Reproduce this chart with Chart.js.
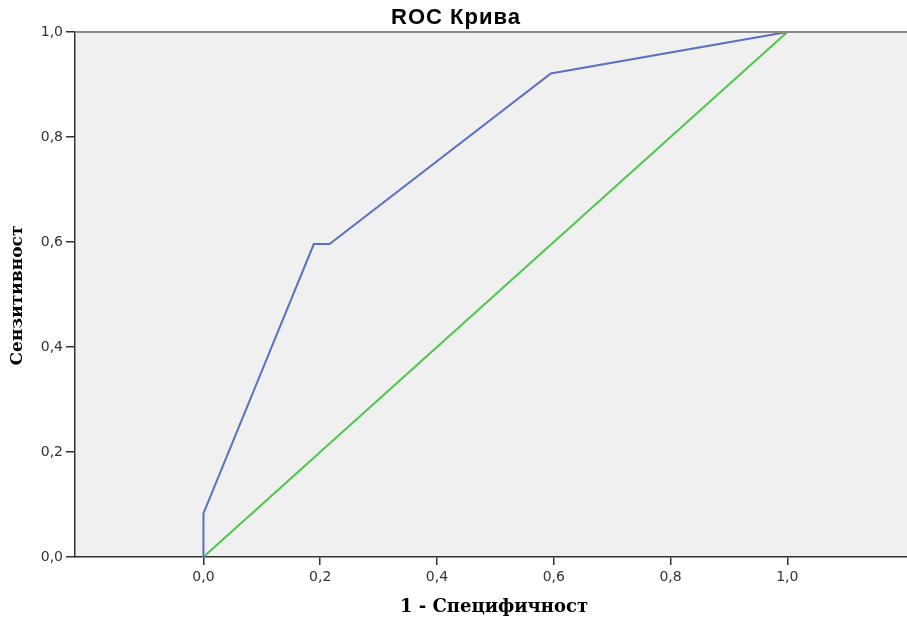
<!DOCTYPE html>
<html>
<head>
<meta charset="utf-8">
<script src="https://cdn.jsdelivr.net/npm/chart.js@4"></script>
<style>
  html, body { margin: 0; padding: 0; background: #ffffff; }
  #wrap { width: 907px; height: 624px; position: relative; }
</style>
</head>
<body>
<div id="wrap"><canvas id="roc" width="907" height="624"></canvas></div>
<script>
// ROC curve: 1 - specificity (x) against sensitivity (y)
const rocFpr = [0.0, 0.0, 0.189, 0.216, 0.595, 1.0];
const rocTpr = [0.0, 0.083, 0.596, 0.596, 0.921, 1.0];
// reference diagonal
const diagX = [0.0, 1.0];
const diagY = [0.0, 1.0];
const tickValues = [0.0, 0.2, 0.4, 0.6, 0.8, 1.0];

const chartTitle = 'ROC Крива';
const xTitle = '1 - Специфичност';
const yTitle = 'Сензитивност';

const toPoints = (xs, ys) => xs.map((x, i) => ({ x: x, y: ys[i] }));
const fmt = v => Number(v).toFixed(1).replace('.', ',');

const bgPlugin = {
  id: 'plotBackground',
  beforeDraw(chart) {
    const { ctx, chartArea: a } = chart;
    ctx.save();
    ctx.fillStyle = '#f0f0f0';
    ctx.fillRect(a.left, a.top, a.right - a.left, a.bottom - a.top);
    ctx.restore();
  },
  afterDraw(chart) {
    const { ctx, chartArea: a } = chart;
    ctx.save();
    // top frame line
    ctx.strokeStyle = '#8a8a8a';
    ctx.lineWidth = 2;
    ctx.beginPath();
    ctx.moveTo(a.left, a.top);
    ctx.lineTo(a.right, a.top);
    ctx.stroke();
    // titles
    ctx.fillStyle = '#000000';
    ctx.textAlign = 'center';
    ctx.textBaseline = 'middle';
    ctx.font = 'bold 22px "Liberation Sans", Arial, sans-serif';
    ctx.letterSpacing = '1px';
    ctx.fillText(chartTitle, 456, 18);
    ctx.letterSpacing = '0px';
    ctx.font = 'bold 18px "DejaVu Serif", serif';
    ctx.fillText(xTitle, (a.left + a.right) / 2 + 3, 607);
    ctx.font = 'bold 17px "DejaVu Serif", serif';
    ctx.translate(18, (a.top + a.bottom) / 2 + 1);
    ctx.rotate(-Math.PI / 2);
    ctx.fillText(yTitle, 0, 0);
    ctx.restore();
  }
};

new Chart(document.getElementById('roc'), {
  type: 'scatter',
  data: {
    datasets: [
      {
        data: toPoints(rocFpr, rocTpr),
        showLine: true,
        borderColor: '#5b6fc4',
        borderWidth: 2,
        pointRadius: 0,
        tension: 0
      },
      {
        data: toPoints(diagX, diagY),
        showLine: true,
        borderColor: '#4cc64c',
        borderWidth: 2,
        pointRadius: 0,
        tension: 0
      }
    ]
  },
  options: {
    responsive: false,
    animation: false,
    layout: { padding: { top: 32, right: 0, left: 0, bottom: 0 } },
    plugins: { legend: { display: false }, tooltip: { enabled: false }, title: { display: false } },
    scales: {
      x: {
        type: 'linear',
        min: -0.22,
        max: 1.205,
        afterBuildTicks(scale) { scale.ticks = tickValues.map(v => ({ value: v })); },
        afterFit(scale) { scale.height = 67; },
        border: { display: true, color: '#333333', width: 1.5 },
        grid: { drawOnChartArea: false, drawTicks: true, tickLength: 8, color: '#333333', lineWidth: 1.5 },
        ticks: {
          callback: v => fmt(v),
          color: '#333333',
          font: { family: '"DejaVu Sans", sans-serif', size: 14 },
          padding: 4,
          maxRotation: 0,
          autoSkip: false
        }
      },
      y: {
        type: 'linear',
        min: 0,
        max: 1,
        afterBuildTicks(scale) { scale.ticks = tickValues.map(v => ({ value: v })); },
        afterFit(scale) { scale.width = 75; },
        border: { display: true, color: '#333333', width: 1.5 },
        grid: { drawOnChartArea: false, drawTicks: true, tickLength: 9, color: '#333333', lineWidth: 1.5 },
        ticks: {
          callback: v => fmt(v),
          color: '#333333',
          font: { family: '"DejaVu Sans", sans-serif', size: 14 },
          padding: 3,
          autoSkip: false
        }
      }
    }
  },
  plugins: [bgPlugin]
});
</script>
</body>
</html>
